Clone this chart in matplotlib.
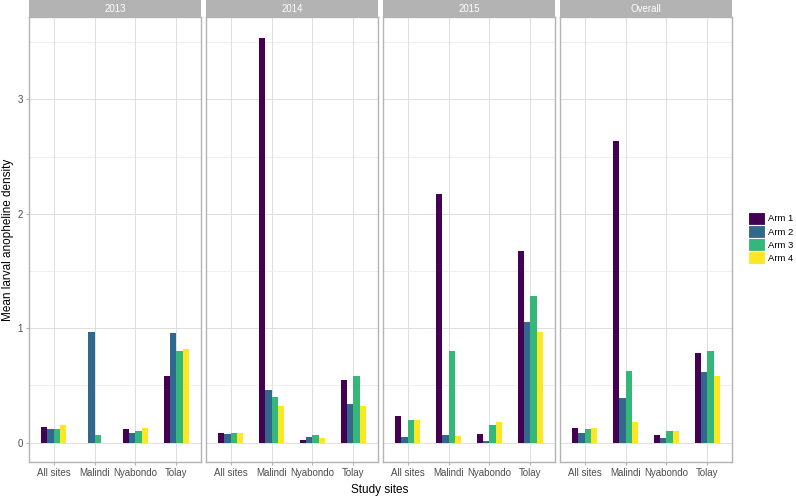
import matplotlib
matplotlib.use("Agg")
import matplotlib.pyplot as plt
from matplotlib.patches import Rectangle, Patch
import numpy as np

plt.rcParams['font.family'] = ['Liberation Sans', 'DejaVu Sans']

panels = ["2013", "2014", "2015", "Overall"]
sites = ["All sites", "Malindi", "Nyabondo", "Tolay"]
arms = ["Arm 1", "Arm 2", "Arm 3", "Arm 4"]
colors = ["#440154", "#31688E", "#35B779", "#FDE725"]

# density[panel][arm] -> values per site (nan = no bar)
density = {
    "2013": [[0.136, np.nan, 0.12, 0.58],
             [0.12, 0.966, 0.08, 0.955],
             [0.12, 0.064, 0.105, 0.80],
             [0.15, np.nan, 0.13, 0.82]],
    "2014": [[0.087, 3.54, 0.026, 0.547],
             [0.079, 0.457, 0.046, 0.337],
             [0.087, 0.396, 0.066, 0.585],
             [0.080, 0.317, 0.040, 0.317]],
    "2015": [[0.23, 2.175, 0.079, 1.677],
             [0.046, 0.064, 0.017, 1.053],
             [0.198, 0.80, 0.151, 1.278],
             [0.198, 0.058, 0.177, 0.969]],
    "Overall": [[0.131, 2.64, 0.064, 0.786],
                [0.084, 0.387, 0.043, 0.617],
                [0.119, 0.626, 0.099, 0.80],
                [0.131, 0.177, 0.099, 0.58]],
}

W, H = 796, 497
fig = plt.figure(figsize=(W / 100, H / 100), dpi=100)

lefts = [29, 206, 383, 560]
pw = 172
top, bottom, strip_h = 17, 462, 17
x = np.arange(1, len(sites) + 1)
bw = 0.15

for i, name in enumerate(panels):
    ax = fig.add_axes([lefts[i] / W, 1 - bottom / H, pw / W, (bottom - top) / H])
    for j in range(len(arms)):
        ax.bar(x + (j - 1.5) * bw, density[name][j], width=bw, color=colors[j],
               label=arms[j], zorder=3)
    ax.set_xlim(0.4, 4.6)
    ax.set_ylim(-0.17, 3.72)
    ax.set_xticks(x)
    ax.set_xticklabels(sites)
    ax.set_yticks([0, 1, 2, 3])
    ax.set_yticks([0.5, 1.5, 2.5, 3.5], minor=True)
    ax.grid(True, which='major', color='#DEDEDE', linewidth=0.7, zorder=0)
    ax.grid(True, which='minor', axis='y', color='#E8E8E8', linewidth=0.5, zorder=0)
    ax.tick_params(which='major', length=2.5, color='#B3B3B3', labelsize=7,
                   labelcolor='#4D4D4D', pad=2)
    ax.tick_params(which='minor', length=0)
    if i > 0:
        ax.tick_params(axis='y', labelleft=False, length=0)
    for s in ax.spines.values():
        s.set_color('#B3B3B3')
        s.set_linewidth(1.0)
    # facet strip
    fig.patches.append(Rectangle((lefts[i] / W, 1 - top / H), pw / W, strip_h / H,
                                 transform=fig.transFigure, facecolor='#B3B3B3',
                                 edgecolor='none'))
    fig.text((lefts[i] + pw / 2) / W, 1 - (strip_h / 2) / H, name, color='white',
             ha='center', va='center', fontsize=7)

fig.text(380 / W, 1 - 490 / H, "Study sites", ha='center', va='center', fontsize=8.5)
fig.text(8 / W, 1 - 240 / H, "Mean larval anopheline density", rotation=90,
         ha='center', va='center', fontsize=8.5)

handles = [Patch(facecolor=c, edgecolor='white', linewidth=0.8) for c in colors]
fig.legend(handles, arms, loc='center left', bbox_to_anchor=(748 / W, 1 - 238 / H),
           frameon=False, fontsize=6.8, handlelength=1.75, handleheight=1.75,
           handletextpad=0.4, labelspacing=0.0, borderaxespad=0, borderpad=0)

fig.savefig("out.png", dpi=100)
